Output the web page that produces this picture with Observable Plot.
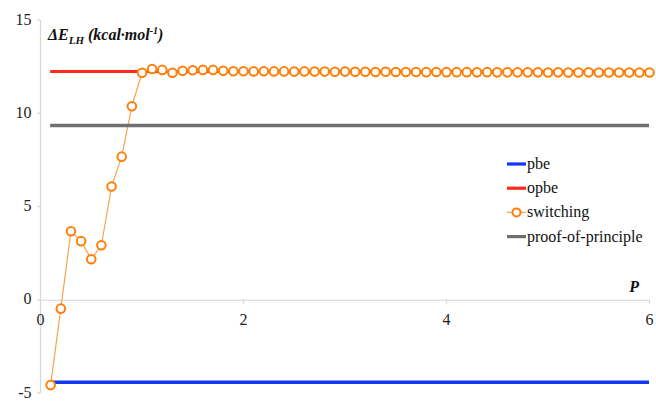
<!DOCTYPE html>
<html>
<head>
<meta charset="utf-8">
<script src="https://cdn.jsdelivr.net/npm/d3@7"></script>
<script src="https://cdn.jsdelivr.net/npm/@observablehq/plot@0.6"></script>
<style>
  html, body { margin: 0; padding: 0; background: #fff; }
  svg { display: block; }
</style>
</head>
<body>
<div id="chart"></div>
<script>
// ---- data ----
const seriesNames = ["pbe", "opbe", "switching", "proof-of-principle"];
const pbeValue = -4.4;
const opbeValue = 12.27;
const proofValue = 9.37;
const P = [0.1,0.2,0.3,0.4,0.5,0.6,0.7,0.8,0.9,1.0,
           1.1,1.2,1.3,1.4,1.5,1.6,1.7,1.8,1.9,2.0,
           2.1,2.2,2.3,2.4,2.5,2.6,2.7,2.8,2.9,3.0,
           3.1,3.2,3.3,3.4,3.5,3.6,3.7,3.8,3.9,4.0,
           4.1,4.2,4.3,4.4,4.5,4.6,4.7,4.8,4.9,5.0,
           5.1,5.2,5.3,5.4,5.5,5.6,5.7,5.8,5.9,6.0];
const switching = [-4.55,-0.45,3.7,3.17,2.2,2.95,6.1,7.7,10.4,12.2,
                   12.4,12.35,12.2,12.3,12.33,12.35,12.35,12.3,12.28,12.28,
                   12.27,12.28,12.27,12.27,12.26,12.27,12.26,12.26,12.25,12.26,
                   12.25,12.25,12.24,12.25,12.24,12.24,12.24,12.23,12.24,12.23,
                   12.23,12.23,12.22,12.23,12.22,12.22,12.22,12.22,12.22,12.21,
                   12.22,12.21,12.21,12.22,12.21,12.21,12.21,12.21,12.21,12.21];
const xTicks = [0, 2, 4, 6];
const yTicks = [-5, 0, 5, 10, 15];

const colors = {pbe: "#1238f5", opbe: "#ff2a1c", switching: "#ff7f0a", proof: "#6f6f6f"};
const serif = "'Liberation Serif', 'Times New Roman', serif";

const switchData = P.map((p, i) => ({P: p, E: switching[i]}));
const pMin = P[0], pMax = P[P.length - 1];

const chart = Plot.plot({
  width: 656,
  height: 401,
  marginLeft: 40,
  marginRight: 7,
  marginTop: 20,
  marginBottom: 8,
  style: {fontFamily: serif, fontSize: "16px", color: "#222", background: "#fff"},
  x: {domain: [0, 6], axis: null},
  y: {domain: [-5, 15], axis: null},
  marks: [
    Plot.ruleX([0], {y1: -5, y2: 15, stroke: "#d6d6d6", strokeWidth: 1.2}),
    Plot.ruleY([0], {x1: 0, x2: 6, stroke: "#d6d6d6", strokeWidth: 1.2}),
    Plot.ruleX(xTicks, {y1: 0, y2: -0.22, stroke: "#d6d6d6", strokeWidth: 1.2}),
    Plot.text(xTicks, {x: d => d, y: 0, dy: 20, text: d => String(d), fontSize: 16, fontFamily: serif, fill: "#222"}),
    Plot.text(yTicks, {x: 0, y: d => d, dx: -9, dy: -1, text: d => String(d), textAnchor: "end", fontSize: 16, fontFamily: serif, fill: "#222"}),
    Plot.ruleY([pbeValue], {x1: pMin, x2: pMax, stroke: colors.pbe, strokeWidth: 3.5}),
    Plot.ruleY([opbeValue], {x1: pMin, x2: pMax, stroke: colors.opbe, strokeWidth: 3}),
    Plot.line(switchData, {x: "P", y: "E", stroke: "#f9a24e", strokeWidth: 1.2}),
    Plot.dot(switchData, {x: "P", y: "E", r: 4.3, stroke: colors.switching, strokeWidth: 2, fill: "#fff"}),
    Plot.ruleY([proofValue], {x1: pMin, x2: pMax, stroke: colors.proof, strokeWidth: 3.5})
  ]
});

const svg = d3.select(chart);
const xs = chart.scale("x"), ys = chart.scale("y");

// y tick marks (short, left of axis)
yTicks.forEach(t => {
  svg.append("line")
    .attr("x1", xs.apply(0) - 3).attr("x2", xs.apply(0))
    .attr("y1", ys.apply(t)).attr("y2", ys.apply(t))
    .attr("stroke", "#d6d6d6").attr("stroke-width", 1.2);
});

// y-axis title with sub/superscripts
const title = svg.append("text")
  .attr("x", 48).attr("y", 40).attr("text-anchor", "start")
  .attr("font-family", serif).attr("font-size", 16)
  .attr("font-weight", "bold").attr("font-style", "italic").attr("fill", "#111");
title.append("tspan").text("ΔE");
title.append("tspan").attr("font-size", 11).attr("dy", 4).text("LH");
title.append("tspan").attr("dy", -4).text(" (kcal·mol");
title.append("tspan").attr("font-size", 10).attr("dy", -6).text("-1");
title.append("tspan").attr("dy", 6).text(")");

// x-axis title
svg.append("text")
  .attr("x", 639).attr("y", 292).attr("text-anchor", "end")
  .attr("font-family", serif).attr("font-size", 16)
  .attr("font-weight", "bold").attr("font-style", "italic").attr("fill", "#111")
  .text("P");

// legend
const legendColors = [colors.pbe, colors.opbe, colors.switching, colors.proof];
const lg = svg.append("g").attr("font-family", serif).attr("font-size", 16).attr("fill", "#111").attr("text-anchor", "start");
seriesNames.forEach((name, i) => {
  const y = 164 + i * 24.2;
  const g = lg.append("g");
  if (name === "switching") {
    g.append("line").attr("x1", 507).attr("x2", 526).attr("y1", y).attr("y2", y)
      .attr("stroke", "#f9a24e").attr("stroke-width", 1.2);
    g.append("circle").attr("cx", 516.5).attr("cy", y).attr("r", 4)
      .attr("stroke", colors.switching).attr("stroke-width", 2).attr("fill", "#fff");
  } else {
    g.append("line").attr("x1", 507).attr("x2", 526).attr("y1", y).attr("y2", y)
      .attr("stroke", legendColors[i]).attr("stroke-width", 3.2);
  }
  g.append("text").attr("x", 527).attr("y", y + 5).text(name);
});

document.getElementById("chart").append(chart);
</script>
</body>
</html>
